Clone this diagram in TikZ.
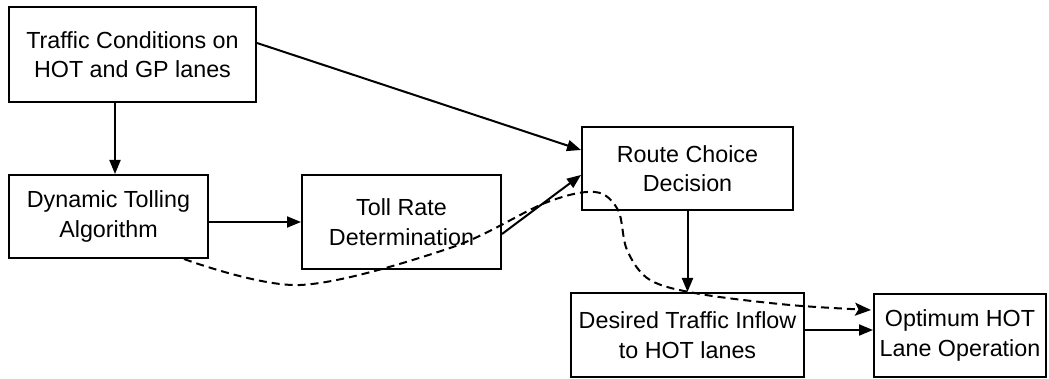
\documentclass[tikz,border=0pt]{standalone}
\usepackage{fontspec}
\setmainfont{Liberation Sans}
\usetikzlibrary{arrows.meta,calc}
\begin{document}
\begin{tikzpicture}[x=1pt,y=-1pt,
  box/.style={draw,line width=2pt,inner sep=0pt,align=center,
    font=\fontsize{23.3}{29.5}\selectfont},
  arr/.style={line width=2pt,-{Triangle[length=14pt,width=11pt]}},
  darr/.style={line width=2pt,dash pattern=on 8pt off 5pt,
    -{Stealth[length=16pt,width=13pt,inset=3.5pt]}}]
\useasboundingbox (0,0) rectangle (1049,379);

% process boxes
\node[box,minimum width=247pt,minimum height=95pt] (tc)  at (132.5,54.5) {Traffic Conditions on\\HOT and GP lanes};
\node[box,minimum width=199pt,minimum height=83pt] (dyn) at (108.5,216.5) {Dynamic Tolling\\Algorithm};
\node[box,minimum width=199pt,minimum height=94pt] (toll) at (401.5,222) {Toll Rate\\Determination};
\node[box,minimum width=211pt,minimum height=83pt] (rc)  at (687.5,168.5) {Route Choice\\Decision};
\node[box,minimum width=233pt,minimum height=84pt] (des) at (687.5,335) {Desired Traffic Inflow\\to HOT lanes};
\node[box,minimum width=172pt,minimum height=83pt] (opt) at (960,335.5) {Optimum HOT\\Lane Operation};

% solid connectors
\draw[arr] ($(tc.east)+(0,-11.5)$) -- ($(rc.west)+(0,-18.5)$);
\draw[arr] (115,0 |- tc.south) -- (115,0 |- dyn.north);
\draw[arr] (dyn.east |- toll.west) -- (toll.west);
\draw[arr] ($(toll.east)+(0,12)$) -- ($(rc.west)+(0,6.5)$);
\draw[arr] (rc.south) -- (des.north);
\draw[arr] ($(des.east)+(0,-5)$) -- ($(opt.west)+(0,-5.5)$);

% dashed feedback path
\coordinate (dstart) at ($(dyn.south east)+(-25,0)$);
\coordinate (dend) at ($(opt.west)+(-2,-25.5)$);
\draw[darr] plot[smooth,tension=0.55] coordinates {(dstart) (300,285) (450,248) (545,203) (595,192) (618,210) (627,250) (650,280) (700,294) (790,305) (dend)};
\end{tikzpicture}
\end{document}
